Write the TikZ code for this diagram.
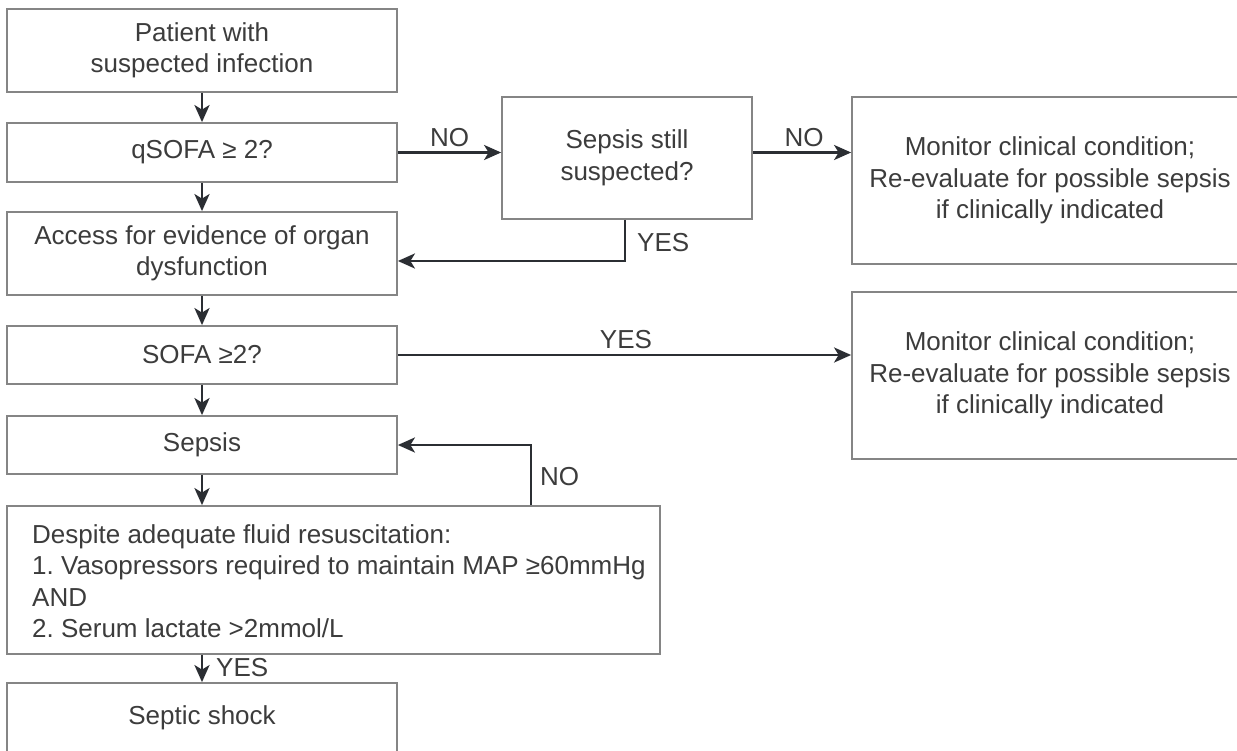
\documentclass[tikz,border=0pt]{standalone}
\usepackage{fontspec}
\setmainfont{Liberation Sans}
\usetikzlibrary{arrows.meta}
\definecolor{txt}{HTML}{3C3C3C}
\definecolor{boxc}{HTML}{858585}
\definecolor{arr}{HTML}{2B2E33}
\begin{document}
\frenchspacing
\begin{tikzpicture}[x=1pt,y=-1pt,
  font=\fontsize{26}{31.5}\selectfont,
  box/.style={draw=boxc, line width=1.8pt, text=txt, align=center, inner sep=0pt},
  lbox/.style={box, minimum width=390pt},
  flow/.style={draw=arr, line width=2.6pt, -{Stealth[length=17pt,width=15pt,inset=4.5pt]}},
  lbl/.style={text=txt, inner sep=0pt}]
\useasboundingbox (0,0) rectangle (1237,751);
\fill[white] (0,0) rectangle (1237,751);

% left column
\node[lbox, minimum height=83pt] (p) at (202,50.5) {Patient with\\suspected infection};
\node[lbox, minimum height=59pt] (q) at (202,152.5) {qSOFA ≥ 2?};
\node[lbox, minimum height=83pt] (a) at (202,253.5) {Access for evidence of organ\\dysfunction};
\node[lbox, minimum height=58pt] (so) at (202,355) {SOFA ≥2?};
\node[lbox, minimum height=58pt] (se) at (202,445) {Sepsis};
\node[box, minimum width=653pt, minimum height=148pt] (d) at (333.5,580) {};
\node[lbl, anchor=west, align=left] (dt) at (32,581) {Despite adequate fluid resuscitation:\\1. Vasopressors required to maintain MAP ≥60mmHg\\AND\\2. Serum lactate >2mmol/L};
\node[lbox, minimum height=70pt] (ss) at (202,718) {Septic shock};

% middle and right
\node[box, minimum width=250pt, minimum height=122pt] (s) at (627,158) {Sepsis still\\suspected?};
\node[box, minimum width=396pt, minimum height=167pt] (m1) at (1050,180.5) {Monitor clinical condition;\\Re-evaluate for possible sepsis\\if clinically indicated};
\node[box, minimum width=396pt, minimum height=167pt] (m2) at (1050,375.5) {Monitor clinical condition;\\Re-evaluate for possible sepsis\\if clinically indicated};

% vertical flow
\draw[flow] (p.south) -- (q.north);
\draw[flow] (q.south) -- (a.north);
\draw[flow] (a.south) -- (so.north);
\draw[flow] (so.south) -- (se.north);
\draw[flow] (se.south) -- (d.north -| se.south);
\draw[flow] (d.south -| ss.north) -- (ss.north);
\node[lbl, anchor=west] (lyes3) at (216,668) {YES};

% qSOFA NO
\draw[flow] (q.east) -- (q.east -| s.west);
\node[lbl, anchor=south] (lno1) at (449.5,147) {NO};
\draw[flow] (s.east |- q.east) -- (m1.west |- q.east);
\node[lbl, anchor=south] (lno2) at (804,147) {NO};

% YES back to access
\coordinate (yb) at (625,261);
\draw[flow] (s.south -| yb) -- (yb) -- (a.east |- yb);
\node[lbl, anchor=west] (lyes1) at (637,243) {YES};

% SOFA YES
\draw[flow] (so.east) -- (so.east -| m2.west);
\node[lbl, anchor=south] (lyes2) at (626,349) {YES};

% NO back to sepsis
\coordinate (nb) at (531,445);
\draw[flow] (d.north -| nb) -- (nb) -- (se.east);
\node[lbl, anchor=west] (lno3) at (540,477) {NO};
\end{tikzpicture}
\end{document}
